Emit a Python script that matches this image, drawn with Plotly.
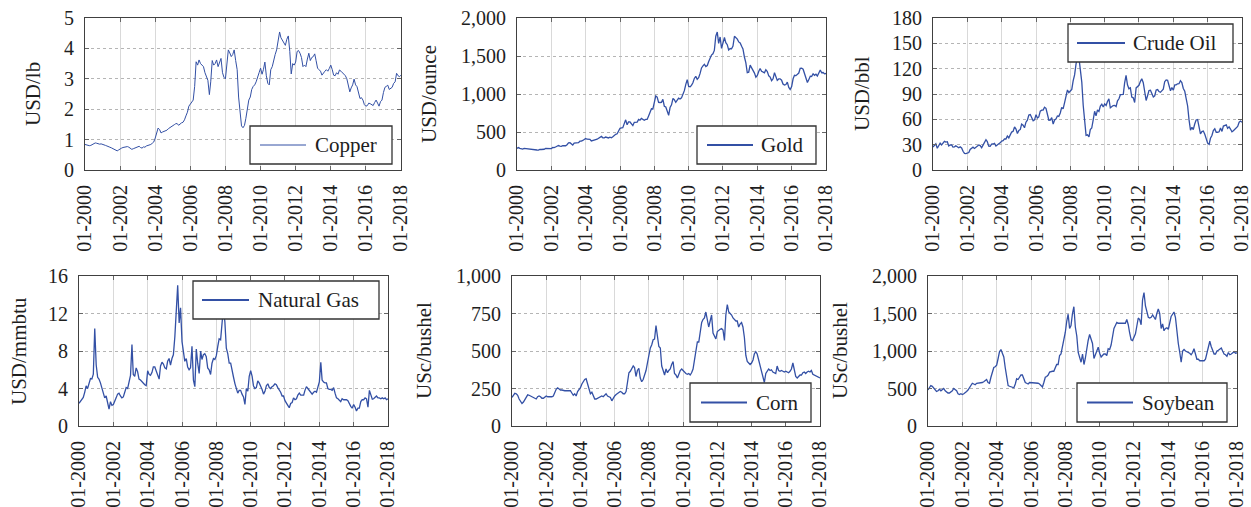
import pandas as pd
import plotly.graph_objects as go

# Monthly prices, January 2000 through January 2018
copper = [
    0.84, 0.82, 0.80, 0.80, 0.81, 0.84, 0.87, 0.89, 0.88, 0.86, 0.85, 0.86,
    0.85, 0.83, 0.81, 0.79, 0.78, 0.75, 0.73, 0.70, 0.67, 0.64, 0.63, 0.66,
    0.70, 0.72, 0.74, 0.75, 0.74, 0.77, 0.75, 0.70, 0.68, 0.70, 0.72, 0.74,
    0.75, 0.78, 0.74, 0.72, 0.76, 0.75, 0.79, 0.80, 0.81, 0.84, 0.88, 0.92,
    1.05, 1.22, 1.38, 1.33, 1.22, 1.25, 1.27, 1.29, 1.31, 1.36, 1.40, 1.42,
    1.46, 1.49, 1.52, 1.53, 1.47, 1.52, 1.55, 1.57, 1.65, 1.78, 1.90, 2.10,
    2.16, 2.22, 2.30, 2.75, 3.56, 3.45, 3.62, 3.50, 3.45, 3.40, 3.20, 3.05,
    2.95, 2.48, 2.90, 3.60, 3.45, 3.50, 3.62, 3.40, 3.55, 3.67, 3.20, 3.05,
    3.00, 3.60, 3.95, 3.85, 3.73, 3.80, 3.95, 3.60, 3.30, 2.40, 1.80, 1.45,
    1.39, 1.47, 1.70, 2.05, 2.30, 2.40, 2.65, 2.75, 2.80, 2.90, 3.10, 3.20,
    3.35, 3.15, 3.30, 3.55, 3.10, 2.85, 2.80, 3.30, 3.40, 3.65, 3.80, 3.95,
    4.30, 4.54, 4.35, 4.25, 4.15, 4.10, 4.30, 4.41, 3.90, 3.16, 3.50, 3.45,
    3.55, 3.90, 3.93, 3.84, 3.70, 3.40, 3.45, 3.40, 3.65, 3.84, 3.60, 3.70,
    3.73, 3.82, 3.60, 3.35, 3.30, 3.25, 3.12, 3.20, 3.25, 3.30, 3.25, 3.34,
    3.45, 3.30, 3.12, 3.10, 3.20, 3.15, 3.29, 3.25, 3.20, 3.18, 3.10, 3.00,
    2.79, 2.57, 2.70, 2.80, 2.99, 2.80, 2.74, 2.50, 2.35, 2.38, 2.30, 2.15,
    2.10, 2.12, 2.20, 2.18, 2.16, 2.12, 2.22, 2.30, 2.20, 2.10, 2.25, 2.30,
    2.55, 2.72, 2.75, 2.79, 2.65, 2.68, 2.72, 2.85, 2.90, 3.18, 3.10, 3.07,
    3.12,
]

gold = [
    285, 295, 285, 280, 275, 285, 282, 275, 274, 270, 266, 272,
    266, 262, 263, 261, 272, 270, 268, 273, 283, 283, 276, 276,
    282, 296, 294, 303, 314, 322, 314, 310, 319, 317, 319, 333,
    357, 359, 340, 328, 355, 356, 351, 360, 379, 379, 389, 407,
    414, 405, 406, 404, 383, 392, 398, 400, 405, 420, 439, 442,
    424, 423, 434, 429, 422, 431, 424, 438, 456, 470, 476, 510,
    549, 555, 557, 610, 660, 596, 633, 632, 598, 585, 627, 629,
    631, 665, 655, 679, 667, 655, 665, 665, 712, 754, 806, 803,
    889, 975, 960, 890, 888, 890, 930, 839, 829, 760, 720, 822,
    858, 943, 925, 890, 928, 946, 934, 949, 996, 1044, 1127, 1190,
    1100, 1095, 1114, 1148, 1205, 1233, 1193, 1215, 1271, 1343, 1370, 1391,
    1360, 1374, 1424, 1474, 1512, 1529, 1573, 1760, 1815, 1666, 1750, 1600,
    1656, 1743, 1675, 1649, 1580, 1598, 1594, 1630, 1760, 1747, 1722, 1685,
    1671, 1628, 1593, 1487, 1414, 1280, 1287, 1380, 1349, 1316, 1275, 1222,
    1244, 1300, 1336, 1299, 1287, 1279, 1320, 1296, 1239, 1222, 1176, 1200,
    1280, 1227, 1179, 1198, 1199, 1182, 1131, 1117, 1125, 1157, 1087, 1060,
    1097, 1200, 1246, 1242, 1260, 1276, 1337, 1341, 1326, 1266, 1236, 1152,
    1192, 1234, 1231, 1266, 1246, 1260, 1237, 1283, 1315, 1280, 1283, 1265,
    1270,
]

crude_oil = [
    27.3, 29.4, 31.0, 25.7, 28.8, 31.8, 29.7, 31.3, 33.9, 33.1, 33.5, 28.5,
    29.6, 29.6, 27.2, 27.4, 28.6, 27.6, 26.4, 27.4, 26.2, 22.2, 19.6, 19.3,
    19.7, 20.7, 24.4, 26.3, 27.0, 25.5, 26.9, 28.4, 29.7, 28.9, 26.3, 29.4,
    32.9, 35.9, 33.6, 28.3, 28.1, 30.7, 30.8, 31.6, 28.3, 30.3, 31.1, 32.2,
    34.3, 34.7, 36.8, 36.7, 40.3, 38.0, 40.7, 44.9, 45.9, 51.0, 48.5, 43.3,
    46.8, 48.0, 54.3, 53.0, 50.0, 56.6, 59.0, 65.0, 65.6, 62.4, 58.3, 59.4,
    65.5, 61.6, 62.9, 69.7, 70.9, 71.0, 74.4, 73.0, 63.8, 58.9, 59.1, 62.0,
    54.5, 59.3, 60.4, 64.0, 63.5, 67.5, 74.1, 72.4, 79.9, 85.8, 94.8, 91.7,
    93.0, 95.4, 105.5, 112.6, 125.4, 133.9, 133.4, 116.7, 104.1, 76.6, 57.3, 41.1,
    41.7, 39.1, 47.9, 49.7, 59.0, 69.6, 64.2, 71.1, 69.4, 75.7, 78.0, 74.5,
    78.3, 76.4, 81.2, 84.3, 73.7, 75.3, 76.3, 76.6, 75.2, 81.9, 84.3, 89.2,
    89.6, 89.6, 102.9, 112.0, 100.9, 96.3, 97.3, 86.3, 85.5, 80.0, 97.2, 98.6,
    100.3, 105.0, 108.0, 103.3, 94.7, 82.3, 87.9, 94.1, 94.5, 89.5, 86.5, 87.9,
    94.8, 95.3, 92.9, 92.0, 94.5, 95.8, 104.6, 106.6, 106.3, 100.5, 93.9, 97.6,
    94.6, 100.8, 100.8, 102.1, 102.2, 105.8, 103.6, 96.5, 93.2, 84.4, 75.8, 59.3,
    47.2, 50.6, 47.8, 54.5, 59.3, 59.8, 50.9, 42.9, 45.5, 46.2, 42.4, 37.2,
    31.7, 30.3, 37.6, 40.8, 46.7, 48.8, 44.7, 44.7, 45.2, 49.8, 45.7, 52.0,
    52.5, 53.5, 49.3, 51.1, 48.5, 45.2, 46.6, 48.0, 49.8, 51.6, 56.6, 57.9,
    56.5,
]

natural_gas = [
    2.42, 2.66, 2.79, 3.04, 3.59, 4.29, 3.99, 4.43, 5.06, 5.02, 5.52, 10.4,
    6.5, 5.2, 5.0, 4.6, 4.0, 3.3, 3.0, 3.2, 2.3, 1.8, 2.6, 2.2,
    2.3, 2.6, 3.0, 3.4, 3.5, 3.2, 3.0, 3.1, 3.5, 4.1, 4.0, 4.6,
    5.4, 8.7, 5.5, 5.3, 6.2, 5.8, 5.0, 4.9, 4.7, 4.6, 4.4, 4.3,
    5.9, 5.5, 5.4, 5.7, 6.3, 6.3, 5.9, 5.4, 5.0, 6.4, 6.8, 6.6,
    6.2, 6.1, 6.9, 7.2, 6.5, 7.2, 7.6, 9.5, 12.5, 15.0, 11.0, 12.6,
    9.0, 7.5, 6.9, 7.2, 6.3, 6.0, 6.2, 8.5, 4.9, 4.2, 8.2, 6.7,
    5.6, 8.0, 7.1, 7.6, 7.7, 7.4, 6.2, 6.0, 5.5, 6.7, 7.2, 7.1,
    7.5, 8.5, 9.3, 9.2, 11.3, 12.7, 11.1, 8.3, 7.7, 6.7, 6.7, 5.8,
    5.2, 4.5, 4.0, 3.5, 3.8, 3.8, 3.4, 3.1, 2.3, 4.0, 3.7, 5.3,
    5.9, 5.3, 4.3, 4.0, 4.1, 4.8, 4.6, 4.3, 3.9, 3.4, 3.7, 4.3,
    4.5, 4.1, 4.0, 4.2, 4.3, 4.5, 4.4, 4.1, 3.9, 3.6, 3.2, 3.2,
    2.7, 2.5, 2.2, 1.95, 2.4, 2.5, 3.0, 2.8, 2.9, 3.3, 3.5, 3.3,
    3.3, 3.3, 3.8, 4.2, 4.0, 3.8, 3.6, 3.4, 3.6, 3.7, 3.6, 4.2,
    4.7, 6.8, 4.9, 4.7, 4.6, 4.6, 4.0, 3.9, 3.9, 3.8, 4.1, 3.5,
    3.0, 2.9, 2.8, 2.6, 2.9, 2.8, 2.8, 2.8, 2.7, 2.3, 2.1, 1.9,
    2.3, 2.0, 1.6, 1.9, 1.9, 2.6, 2.8, 2.8, 3.0, 2.9, 2.0, 3.8,
    3.3, 2.85, 2.9, 3.1, 3.2, 3.0, 3.0, 2.9, 3.0, 2.9, 3.0, 2.8,
    2.9,
]

corn = [
    190, 205, 218, 215, 205, 180, 160, 150, 160, 178, 195, 208,
    205, 200, 195, 185, 185, 180, 195, 200, 195, 185, 185, 195,
    200, 195, 195, 190, 195, 200, 225, 245, 255, 245, 240, 240,
    235, 235, 235, 235, 235, 235, 220, 205, 215, 200, 230, 245,
    255, 280, 300, 310, 315, 285, 240, 215, 225, 195, 180, 180,
    185, 190, 195, 200, 195, 205, 215, 200, 195, 190, 168, 190,
    200, 210, 215, 220, 230, 225, 215, 215, 230, 290, 355, 365,
    380, 400, 390, 330, 370, 385, 320, 295, 310, 340, 370, 420,
    480, 520, 540, 575, 580, 670, 600, 530, 520, 400, 370, 340,
    380, 355, 370, 380, 410, 430, 350, 340, 320, 350, 370, 380,
    370, 355, 350, 345, 350, 340, 355, 380, 450, 500, 560, 560,
    620, 690, 710, 720, 760, 700, 660, 700, 740, 620, 600, 580,
    630, 640, 645, 650, 640, 570, 740, 810, 760, 750, 740, 720,
    710, 700, 700, 660, 680, 690, 660, 590, 470, 430, 420, 410,
    420, 440, 480, 495, 480, 440, 390, 360, 330, 290, 350, 370,
    380, 370, 375, 360, 355, 350, 400, 370, 365, 370, 365, 360,
    365, 360, 355, 365, 380, 420, 380, 330, 320, 330, 340, 340,
    355, 360, 350, 360, 365, 360, 370, 345, 340, 340, 335, 325,
    320,
]

soybean = [
    480, 510, 540, 530, 510, 480, 460, 470, 490, 470, 480, 500,
    470, 450, 440, 440, 450, 470, 500, 490, 470, 430, 420, 430,
    420, 430, 440, 460, 480, 510, 550, 570, 560, 550, 570, 570,
    570, 570, 580, 590, 610, 620, 580, 570, 650, 730, 780, 790,
    810, 900, 990, 1020, 960, 920, 780, 620, 540, 530, 520, 520,
    510, 560, 630, 620, 650, 680, 680, 640, 580, 570, 560, 580,
    580, 570, 570, 570, 580, 570, 560, 540, 520, 580, 650, 660,
    680, 720, 730, 730, 730, 790, 820, 820, 940, 960, 1050, 1150,
    1250, 1400, 1490, 1300, 1340, 1500, 1590, 1320, 1200, 980, 900, 850,
    960, 820, 900, 1040, 1140, 1220, 1150, 1100, 900, 960, 1000, 1050,
    970, 920, 940, 960, 960, 940, 1030, 1020, 1080, 1200, 1300, 1340,
    1380, 1370, 1370, 1360, 1370, 1360, 1370, 1420, 1350, 1240, 1150, 1140,
    1200, 1230, 1330, 1440, 1420, 1350, 1680, 1780, 1600, 1540, 1450, 1440,
    1450, 1480, 1440, 1420, 1500, 1560, 1500, 1300, 1360, 1270, 1300, 1310,
    1290, 1380, 1460, 1490, 1520, 1450, 1240, 1100, 980, 850, 1000, 1020,
    1000, 990, 990, 970, 950, 980, 1030, 960, 890, 890, 870, 870,
    870, 870, 890, 960, 1050, 1130, 1060, 1000, 960, 960, 1000, 1010,
    1030, 1040, 1000, 960, 950, 930, 980, 950, 960, 980, 990, 970,
    975,
]

series_names = ["Copper", "Gold", "Crude Oil", "Natural Gas", "Corn", "Soybean"]
series_values = [copper, gold, crude_oil, natural_gas, corn, soybean]
units = ["USD/lb", "USD/ounce", "USD/bbl", "USD/mmbtu", "USc/bushel", "USc/bushel"]
y_max = [5, 2000, 180, 16, 1000, 2000]
y_step = [1, 500, 30, 4, 250, 500]

months = pd.date_range("2000-01-01", periods=len(copper), freq="MS")

W, H = 1251, 507
FONT = "Liberation Serif"
LINE = "#3350a5"
TEXT = "#1e1e1e"

# panel plot areas in pixels: (left, right, top, bottom)
panels = [
    (85, 401, 18, 170),
    (517, 826, 18, 170),
    (933, 1242, 18, 170),
    (79, 388, 276, 426),
    (512, 820, 276, 426),
    (928, 1237, 276, 426),
]
# legend box (left, right, top, bottom) and line sample (start, end, text x)
legend_boxes = [
    (250, 392, 126, 164, 260, 306, 313),
    (697, 816, 126, 164, 707, 753, 759),
    (1068, 1233, 24, 62, 1077, 1125, 1131),
    (193, 379, 281, 319, 202, 249, 256),
    (690, 811, 383, 422, 701, 747, 754),
    (1077, 1227, 383, 422, 1087, 1133, 1140),
]
title_x = [33, 429, 862, 19, 424, 840]


def px(x):
    return x / W


def py(y):
    return 1 - y / H


fig = go.Figure()
layout = dict(
    width=W, height=H, margin=dict(l=0, r=0, t=0, b=0, autoexpand=False),
    paper_bgcolor="white", plot_bgcolor="white", showlegend=False,
    font=dict(family=FONT, color=TEXT, size=20),
)
shapes, annotations = [], []

for i, (name, vals) in enumerate(zip(series_names, series_values)):
    k = "" if i == 0 else str(i + 1)
    l, r, t, b = panels[i]
    fig.add_trace(go.Scatter(
        x=months, y=vals, mode="lines", name=name,
        line=dict(color=LINE, width=1.0 if i == 0 else 1.3),
        xaxis="x" + k, yaxis="y" + k, hoverinfo="x+y",
    ))
    layout["xaxis" + k] = dict(
        domain=[px(l), px(r)], anchor="y" + k, type="date", automargin=False,
        range=["2000-01-01", "2018-01-01"], tick0="2000-01-01", dtick="M24",
        tickformat="%m-%Y", tickangle=-90, ticklabeloverflow="allow",
        showgrid=True, gridcolor="#d9d9d9", gridwidth=1,
        ticks="inside", ticklen=4, tickcolor="#666",
        showline=True, linecolor="#404040", linewidth=1.2, mirror="ticks",
        tickfont=dict(family=FONT, size=20, color=TEXT),
        ticklabelstandoff=6,
    )
    layout["yaxis" + k] = dict(
        domain=[py(b), py(t)], anchor="x" + k, automargin=False,
        range=[0, y_max[i]], tick0=0, dtick=y_step[i], tickformat=",d",
        ticklabeloverflow="allow",
        showgrid=True, gridcolor="#b5b5b5", gridwidth=1, griddash="dot",
        zeroline=False,
        ticks="inside", ticklen=4, tickcolor="#666",
        showline=True, linecolor="#404040", linewidth=1.2, mirror="ticks",
        tickfont=dict(family=FONT, size=20, color=TEXT),
        ticklabelstandoff=6,
    )
    annotations.append(dict(
        text=units[i], x=px(title_x[i]), y=py((t + b) / 2),
        xref="paper", yref="paper", xanchor="center", yanchor="middle",
        textangle=-90, showarrow=False,
        font=dict(family=FONT, size=21, color=TEXT),
    ))

    bl, br, bt, bb, ls, le, tx = legend_boxes[i]
    shapes.append(dict(
        type="rect", xref="paper", yref="paper",
        x0=px(bl), x1=px(br), y0=py(bb), y1=py(bt),
        fillcolor="white", line=dict(color="#333", width=1.3), layer="above",
    ))
    ym = py((bt + bb) / 2)
    shapes.append(dict(
        type="line", xref="paper", yref="paper",
        x0=px(ls), x1=px(le), y0=ym, y1=ym,
        line=dict(color=LINE, width=1.0 if i == 0 else 2.0), layer="above",
    ))
    annotations.append(dict(
        text=name, x=px(tx), y=ym, xref="paper", yref="paper",
        xanchor="left", yanchor="middle", showarrow=False,
        font=dict(family=FONT, size=21, color=TEXT),
    ))

layout["shapes"] = shapes
layout["annotations"] = annotations
fig.update_layout(**layout)
fig.write_html("out.html")
